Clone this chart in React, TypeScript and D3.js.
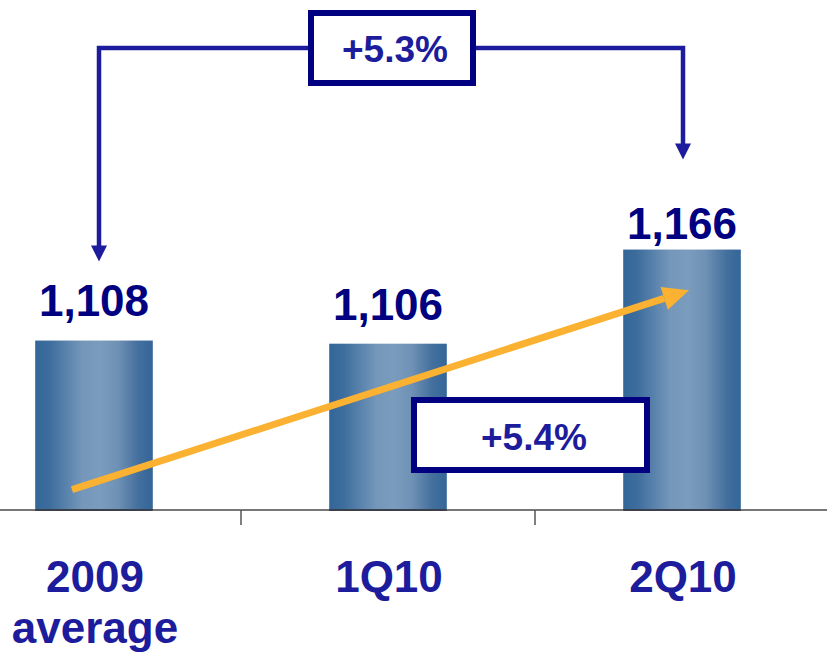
import React from "react";
import * as d3 from "d3";

const categories = ["2009 average", "1Q10", "2Q10"];
const categoryLines = [["2009", "average"], ["1Q10"], ["2Q10"]];
const values = [1108, 1106, 1166];
const valueLabels = ["1,108", "1,106", "1,166"];
const growthTotal = "+5.3%";
const growthQuarter = "+5.4%";

const W = 827;
const H = 655;
const BASE_Y = 510;
const LABEL_GAP = [25, 24, 11];
const NAVY = "#000080";
const BLUE = "#1c1c9c";
const ORANGE = "#fbb131";
const FONT = "'Liberation Sans', Arial, Helvetica, sans-serif";

export default function App() {
  const x = d3
    .scaleBand<string>()
    .domain(categories)
    .range([-53, 829])
    .paddingInner(0.6)
    .paddingOuter(0.3);
  const y = d3.scaleLinear().domain([1000, 1300]).range([BASE_Y, BASE_Y - 300 * 1.569]);
  const bw = x.bandwidth();
  const cx = (i: number) => (x(categories[i]) as number) + bw / 2;
  const step = x.step();

  // bracket geometry
  const leftX = cx(0) + 5;
  const rightX = cx(2) + 1;
  const topY = 48;
  const leftTip = y(values[0]) - 79;
  const rightTip = y(values[2]) - 90;

  // orange trend arrow
  const ox1 = cx(0) - 22;
  const oy1 = y(1013);
  const ox2 = cx(2) + 7;
  const oy2 = y(1140);
  const dx = ox2 - ox1;
  const dy = oy2 - oy1;
  const len = Math.hypot(dx, dy);
  const ux = dx / len;
  const uy = dy / len;
  const headL = 26;
  const headW = 12;
  const bx = ox2 - ux * headL;
  const by = oy2 - uy * headL;
  const px = -uy;
  const py = ux;
  const orangeHead = `${ox2},${oy2} ${bx + px * headW},${by + py * headW} ${bx - px * headW},${by - py * headW}`;

  const line = d3.line();

  return (
    <svg
      width={W}
      height={H}
      style={{ position: "absolute", left: 0, top: 0, display: "block", background: "#fff" }}
    >
      <defs>
        <linearGradient id="barGrad" x1="0" x2="1" y1="0" y2="0">
          <stop offset="0" stopColor="#336699" />
          <stop offset="0.12" stopColor="#3d6d9d" />
          <stop offset="0.4" stopColor="#7497ba" />
          <stop offset="0.55" stopColor="#7a9cbd" />
          <stop offset="0.7" stopColor="#6f91b5" />
          <stop offset="0.88" stopColor="#436f9d" />
          <stop offset="1" stopColor="#336699" />
        </linearGradient>
      </defs>

      {/* bars */}
      {values.map((v, i) => (
        <rect
          key={categories[i]}
          x={x(categories[i])}
          y={y(v)}
          width={bw}
          height={BASE_Y - y(v)}
          fill="url(#barGrad)"
        />
      ))}

      {/* axis */}
      <line x1={0} x2={W} y1={BASE_Y} y2={BASE_Y} stroke="#777" strokeWidth={2} />
      {values.map((v, i) => (
        <line
          key={"b" + i}
          x1={x(categories[i])}
          x2={(x(categories[i]) as number) + bw}
          y1={BASE_Y}
          y2={BASE_Y}
          stroke="#3a3f4a"
          strokeWidth={2}
        />
      ))}
      {[1, 2].map((k) => {
        const tx = (x(categories[k]) as number) - (step - bw) / 2;
        return <line key={"t" + k} x1={tx} x2={tx} y1={BASE_Y} y2={BASE_Y + 15} stroke="#555" strokeWidth={1.5} />;
      })}

      {/* value labels */}
      {values.map((v, i) => (
        <text
          key={"v" + i}
          x={cx(i)}
          y={y(v) - LABEL_GAP[i]}
          textAnchor="middle"
          fontFamily={FONT}
          fontWeight="bold"
          fontSize={44}
          fill={NAVY}
        >
          {valueLabels[i]}
        </text>
      ))}

      {/* category labels */}
      {categoryLines.map((lines, i) => (
        <text
          key={"c" + i}
          x={cx(i) + 1}
          y={592}
          textAnchor="middle"
          fontFamily={FONT}
          fontWeight="bold"
          fontSize={44}
          fill={BLUE}
        >
          {lines.map((l, j) => (
            <tspan key={j} x={cx(i) + 1} dy={j === 0 ? 0 : 51}>
              {l}
            </tspan>
          ))}
        </text>
      ))}

      {/* bracket arrow */}
      <path
        d={line([[leftX, leftTip - 14], [leftX, topY], [308, topY]]) as string}
        fill="none"
        stroke={BLUE}
        strokeWidth={4.5}
      />
      <path
        d={line([[476, topY], [rightX, topY], [rightX, rightTip - 14]]) as string}
        fill="none"
        stroke={BLUE}
        strokeWidth={4.5}
      />
      <polygon
        points={`${leftX},${leftTip} ${leftX - 8},${leftTip - 16} ${leftX + 8},${leftTip - 16}`}
        fill={BLUE}
      />
      <polygon
        points={`${rightX},${rightTip} ${rightX - 8},${rightTip - 16} ${rightX + 8},${rightTip - 16}`}
        fill={BLUE}
      />
      <rect x={311} y={13} width={162} height={70} fill="#fff" stroke={NAVY} strokeWidth={6} />
      <text x={395} y={62} textAnchor="middle" fontFamily={FONT} fontWeight="bold" fontSize={37} fill={BLUE}>
        {growthTotal}
      </text>

      {/* orange trend arrow */}
      <line x1={ox1} y1={oy1} x2={bx} y2={by} stroke={ORANGE} strokeWidth={7} />
      <polygon points={orangeHead} fill={ORANGE} />

      {/* quarter growth box */}
      <rect x={414} y={400} width={233} height={70} fill="#fff" stroke={NAVY} strokeWidth={6} />
      <text x={534} y={450} textAnchor="middle" fontFamily={FONT} fontWeight="bold" fontSize={37} fill={BLUE}>
        {growthQuarter}
      </text>
    </svg>
  );
}
